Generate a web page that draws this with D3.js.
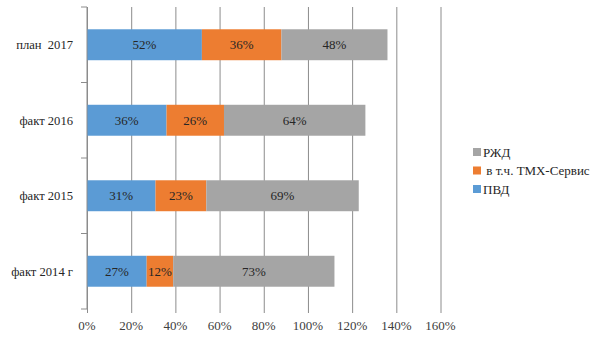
<!DOCTYPE html>
<html>
<head>
<meta charset="utf-8">
<script src="https://cdn.jsdelivr.net/npm/d3@7"></script>
<style>
  html, body { margin: 0; padding: 0; background: #fff; }
  svg { display: block; }
  text { font-family: "Liberation Serif", "DejaVu Serif", serif; }
</style>
</head>
<body>
<svg id="chart" width="605" height="340"></svg>
<script>
// Categories, top to bottom
const categories = ["план  2017", "факт 2016", "факт 2015", "факт 2014 г"];
// Series values (percent), stacked left to right
const pvd = [52, 36, 31, 27];
const tmx = [36, 26, 23, 12];
const rzd = [48, 64, 69, 73];
const seriesNames = ["ПВД", " в т.ч. ТМХ-Сервис", "РЖД"];
const xTicks = [0, 20, 40, 60, 80, 100, 120, 140, 160];

const colors = ["#5B9BD5", "#ED7D31", "#A5A5A5"];

const svg = d3.select("#chart");
const margin = { left: 87, right: 164.5, top: 7, bottom: 31 };
const W = 605, H = 340;

const x = d3.scaleLinear().domain([0, 160]).range([margin.left, W - margin.right]);
const y = d3.scaleBand().domain(categories).range([margin.top, H - margin.bottom]).paddingInner(0.59).paddingOuter(0.295);
const yBounds = d3.scaleBand().domain(categories).range([margin.top, H - margin.bottom]);

const rows = categories.map((c, i) => ({ cat: c, "ПВД": pvd[i], " в т.ч. ТМХ-Сервис": tmx[i], "РЖД": rzd[i] }));
const stacked = d3.stack().keys(seriesNames)(rows);

// Vertical gridlines with short outside tick marks below
svg.append("g")
  .attr("transform", `translate(0,${H - margin.bottom})`)
  .call(d3.axisBottom(x).tickValues(xTicks)
    .tickSize(-(H - margin.top - margin.bottom)).tickSizeOuter(0).tickPadding(0)
    .tickFormat(""))
  .call(g => g.select(".domain").remove())
  .call(g => g.selectAll(".tick line").attr("stroke", "#8c8c8c").attr("y2", -(H - margin.top - margin.bottom)).attr("y1", 4));

// X tick labels
svg.append("g").selectAll("text").data(xTicks).join("text")
  .attr("x", d => x(d)).attr("y", 330)
  .attr("text-anchor", "middle")
  .attr("font-size", 13).attr("fill", "#404040")
  .text(d => d + "%");

// Bars
svg.append("g").selectAll("g").data(stacked).join("g")
  .attr("fill", (d, i) => colors[i])
  .selectAll("rect").data(d => d).join("rect")
  .attr("x", d => x(d[0]))
  .attr("width", d => x(d[1]) - x(d[0]))
  .attr("y", d => y(d.data.cat))
  .attr("height", y.bandwidth());

// Segment value labels
svg.append("g").selectAll("g").data(stacked).join("g")
  .selectAll("text").data(d => d.map(v => ({ v, key: d.key }))).join("text")
  .attr("x", d => (x(d.v[0]) + x(d.v[1])) / 2)
  .attr("y", d => y(d.v.data.cat) + y.bandwidth() / 2)
  .attr("dy", "0.35em")
  .attr("text-anchor", "middle")
  .attr("font-size", 13).attr("fill", "#262626")
  .text(d => d.v.data[d.key] + "%");

// Y axis line with outside ticks at category boundaries
const bounds = categories.map(c => yBounds(c)).concat([H - margin.bottom]);
svg.append("line")
  .attr("x1", x(0)).attr("x2", x(0))
  .attr("y1", margin.top).attr("y2", H - margin.bottom)
  .attr("stroke", "#8c8c8c");
svg.append("g").selectAll("line").data(bounds).join("line")
  .attr("x1", x(0) - 6).attr("x2", x(0))
  .attr("y1", d => d).attr("y2", d => d)
  .attr("stroke", "#8c8c8c");

// Category labels
svg.append("g").selectAll("text").data(categories).join("text")
  .attr("x", 73)
  .attr("y", d => y(d) + y.bandwidth() / 2)
  .attr("dy", "0.35em")
  .attr("text-anchor", "end")
  .attr("font-size", 12.6).attr("fill", "#262626")
  .style("white-space", "pre")
  .text(d => d);

// Legend (reverse order, РЖД on top)
const legendItems = seriesNames.map((n, i) => ({ n, c: colors[i] })).reverse();
const legend = svg.append("g").selectAll("g").data(legendItems).join("g")
  .attr("transform", (d, i) => `translate(473,${152 + i * 18.5})`);
legend.append("rect").attr("x", 0).attr("y", -4).attr("width", 8).attr("height", 8).attr("fill", d => d.c);
legend.append("text").attr("x", 10).attr("y", 0).attr("dy", "0.35em")
  .attr("font-size", 13).attr("fill", "#262626")
  .style("white-space", "pre")
  .text(d => d.n);
</script>
</body>
</html>
